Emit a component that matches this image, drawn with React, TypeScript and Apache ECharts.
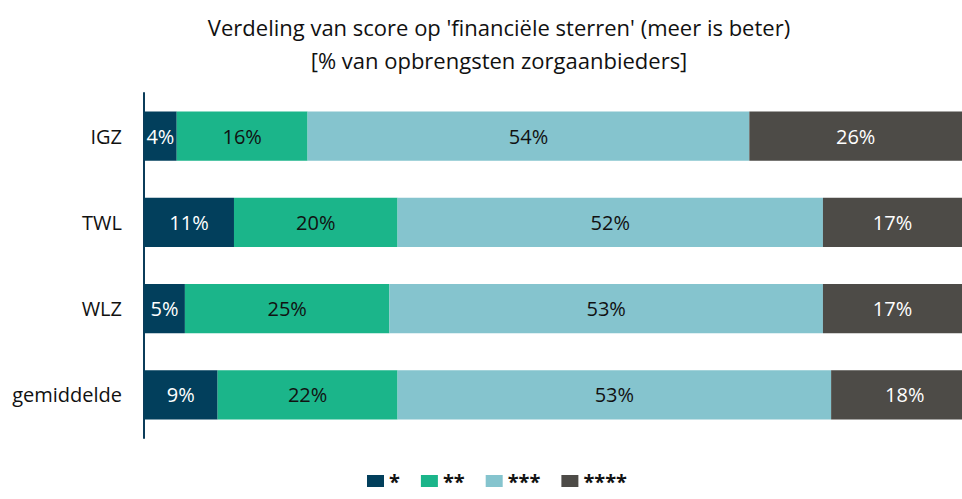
import React, { useEffect, useRef } from "react";
import * as echarts from "echarts";

const categories = ["IGZ", "TWL", "WLZ", "gemiddelde"];
const seriesNames = ["*", "**", "***", "****"];
const oneStar = [4, 11, 5, 9];
const twoStars = [16, 20, 25, 22];
const threeStars = [54, 52, 53, 53];
const fourStars = [26, 17, 17, 18];
const colors = ["#023f5c", "#1bb58a", "#85c4ce", "#4d4b47"];
const labelColors = ["#ffffff", "#111111", "#111111", "#ffffff"];
const titleLines = [
  "Verdeling van score op 'financiële sterren' (meer is beter)",
  "[% van opbrengsten zorgaanbieders]",
];

const FONT = "Open Sans";

export default function App() {
  const ref = useRef<HTMLDivElement>(null);
  useEffect(() => {
    document.body.style.margin = "0";
    const chart = echarts.init(ref.current!, null, { renderer: "svg" });
    const values = [oneStar, twoStars, threeStars, fourStars];
    chart.setOption({
      animation: false,
      title: {
        text: titleLines.join("\n"),
        left: 494,
        top: 5,
        textAlign: "center",
        textStyle: {
          fontFamily: FONT,
          fontSize: 22,
          fontWeight: "normal",
          color: "#111",
          lineHeight: 33,
        },
      },
      legend: {
        data: seriesNames,
        left: 362,
        top: 466,
        itemWidth: 17,
        itemHeight: 12,
        itemGap: 21,
        icon: "rect",
        textStyle: {
          fontFamily: FONT,
          fontSize: 20,
          fontWeight: "bold",
          color: "#111",
        },
      },
      grid: { left: 144, top: 93, width: 825, height: 345 },
      xAxis: {
        type: "value",
        min: 0,
        max: 100,
        show: false,
      },
      yAxis: {
        type: "category",
        data: categories,
        inverse: true,
        axisLine: { show: true, lineStyle: { color: "#0b3c5a", width: 2 } },
        axisTick: { show: false },
        axisLabel: {
          fontFamily: FONT,
          fontSize: 20,
          color: "#111",
          margin: 22,
        },
      },
      series: seriesNames.map((name, i) => ({
        name,
        type: "bar",
        stack: "total",
        barWidth: "57%",
        clip: false,
        data: values[i],
        itemStyle: { color: colors[i] },
        label: {
          show: true,
          position: "inside",
          formatter: "{c}%",
          fontFamily: FONT,
          fontSize: 20,
          color: labelColors[i],
        },
      })),
    });
    return () => chart.dispose();
  }, []);
  return <div ref={ref} style={{ width: 962, height: 499 }} />;
}
